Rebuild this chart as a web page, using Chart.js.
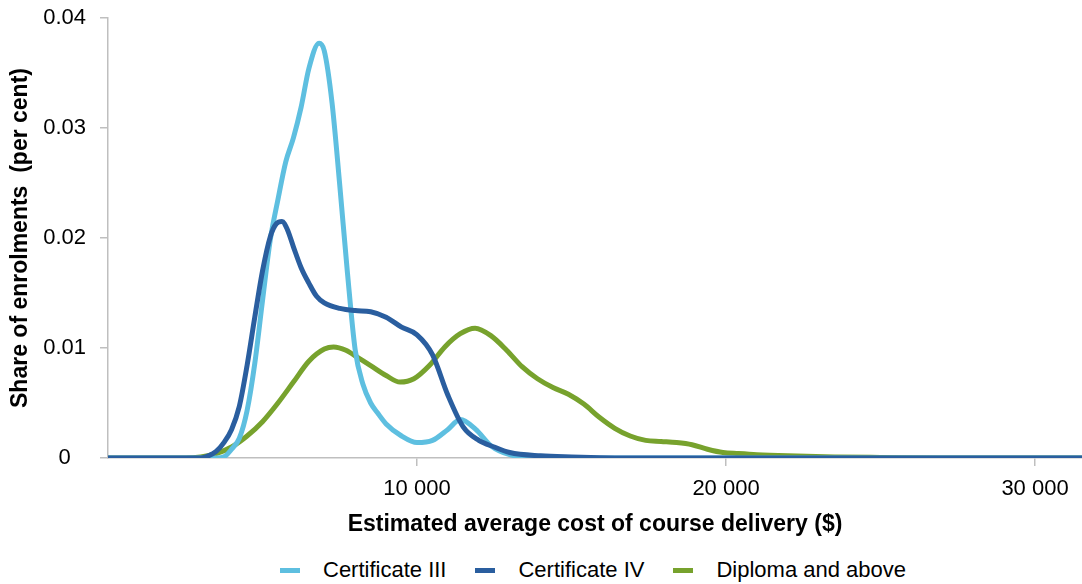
<!DOCTYPE html>
<html>
<head>
<meta charset="utf-8">
<script src="https://cdn.jsdelivr.net/npm/chart.js@4.4.1/dist/chart.umd.min.js"></script>
<style>
  html, body { margin: 0; padding: 0; background: #fff; }
  body { width: 1082px; height: 584px; position: relative; overflow: hidden; font-family: "Liberation Sans", Arial, sans-serif; }
  #wrap { position: absolute; left: 0; top: 0; width: 1082px; height: 538px; }
  #legend { position: absolute; left: 280px; top: 557px; display: flex; align-items: center; font-size: 22px; line-height: 26px; color: #000; }
  #legend .item { display: flex; align-items: center; margin-right: 29px; }
  #legend .sw { width: 20px; height: 5px; margin-right: 23px; }
</style>
</head>
<body>
<div id="wrap"><canvas id="chart"></canvas></div>
<div id="legend"></div>
<script>
// ---------- Data ----------
const SERIES_NAMES = ["Certificate III", "Certificate IV", "Diploma and above"];
const SERIES_COLORS = ["#5ebfe0", "#2a5e9f", "#77a22d"];

const cert3Cost  = [0, 3500, 3750, 4000, 4250, 4500, 4750, 5000, 5250, 5500, 5750, 6000, 6250, 6500, 6830, 7000, 7250, 7500, 7750, 8000, 8250, 8500, 8750, 9000, 9500, 10000, 10500, 11000, 11400, 11900, 12400, 13000, 13500, 14000, 31520];
const cert3Share = [0, 0, 0.0001, 0.0008, 0.0018, 0.0043, 0.0086, 0.0143, 0.0198, 0.0235, 0.0269, 0.0291, 0.0319, 0.0354, 0.0377, 0.0370, 0.0323, 0.0248, 0.0168, 0.0098, 0.0067, 0.0050, 0.0040, 0.0031, 0.0020, 0.0014, 0.0016, 0.0026, 0.0035, 0.0026, 0.0011, 0.0003, 0.0001, 0, 0];

const cert4Cost  = [0, 3000, 3250, 3500, 3750, 4000, 4250, 4500, 4750, 5000, 5250, 5450, 5630, 5800, 6000, 6250, 6500, 6750, 7000, 7500, 8000, 8500, 9000, 9500, 10000, 10500, 11000, 11500, 12000, 12500, 13000, 14000, 15000, 17000, 31520];
const cert4Share = [0, 0, 0.0002, 0.0006, 0.0014, 0.0026, 0.0047, 0.0084, 0.0128, 0.0170, 0.0201, 0.0213, 0.0215, 0.0208, 0.0192, 0.0173, 0.0159, 0.0147, 0.0141, 0.0136, 0.0134, 0.0133, 0.0128, 0.0119, 0.0112, 0.0094, 0.0057, 0.0028, 0.0016, 0.0010, 0.0005, 0.0002, 0.0001, 0, 0];

const diplomaCost  = [0, 2500, 3000, 3500, 4000, 4500, 5000, 5500, 6000, 6500, 7000, 7300, 7700, 8100, 8500, 9000, 9450, 9900, 10400, 10900, 11400, 11880, 12400, 12900, 13400, 13900, 14400, 14900, 15400, 15900, 16400, 16900, 17400, 17900, 18400, 18900, 19400, 19900, 20400, 21000, 22000, 23500, 25000, 27000, 31520];
const diplomaShare = [0, 0, 0.0001, 0.0004, 0.0010, 0.0020, 0.0033, 0.0050, 0.0069, 0.0088, 0.0099, 0.0101, 0.0098, 0.0091, 0.0084, 0.0075, 0.0069, 0.0072, 0.0084, 0.0101, 0.0113, 0.0118, 0.0111, 0.0098, 0.0083, 0.0072, 0.0064, 0.0058, 0.0049, 0.0037, 0.0027, 0.0020, 0.0016, 0.0015, 0.0014, 0.0012, 0.0008, 0.0005, 0.0004, 0.0003, 0.0002, 0.0001, 0.00005, 0, 0];

const X_TICKS = [10000, 20000, 30000];
const Y_TICKS = [0, 0.01, 0.02, 0.03, 0.04];

// ---------- Helpers ----------
const FONT = '"Liberation Sans", Arial, sans-serif';
const AXIS_GREY = "#bfbfbf";

function toPoints(xs, ys) {
  return xs.map((x, i) => ({ x, y: ys[i] }));
}

function lineDataset(idx, xs, ys, order) {
  return {
    label: SERIES_NAMES[idx],
    data: toPoints(xs, ys),
    borderColor: SERIES_COLORS[idx],
    backgroundColor: SERIES_COLORS[idx],
    borderWidth: 5,
    pointRadius: 0,
    cubicInterpolationMode: "monotone",
    fill: false,
    order
  };
}

function fmtThousands(v) {
  return String(v).replace(/\B(?=(\d{3})+(?!\d))/g, " ");
}

// ---------- Chart ----------
new Chart(document.getElementById("chart"), {
  type: "line",
  data: {
    datasets: [
      lineDataset(0, cert3Cost, cert3Share, 1),
      lineDataset(1, cert4Cost, cert4Share, 0),
      lineDataset(2, diplomaCost, diplomaShare, 2)
    ]
  },
  options: {
    responsive: true,
    maintainAspectRatio: false,
    animation: false,
    layout: { padding: { top: 18, right: 0, bottom: 0, left: 0 } },
    plugins: { legend: { display: false }, tooltip: { enabled: false } },
    scales: {
      x: {
        type: "linear",
        min: 0,
        max: 31520,
        afterBuildTicks: s => { s.ticks = X_TICKS.map(v => ({ value: v })); },
        afterFit: s => { s.height = 80; s.paddingLeft = 0; s.paddingRight = 0; },
        border: { display: true, color: AXIS_GREY, width: 1.5 },
        grid: { display: true, drawOnChartArea: false, drawTicks: true, tickLength: 8, color: AXIS_GREY, lineWidth: 1.5 },
        ticks: {
          padding: 10,
          maxRotation: 0,
          color: "#000",
          font: { family: FONT, size: 22 },
          callback: v => fmtThousands(v)
        },
        title: {
          display: true,
          text: "Estimated average cost of course delivery ($)",
          color: "#000",
          font: { family: FONT, size: 23, weight: "bold" },
          padding: { top: 0, bottom: 0 }
        }
      },
      y: {
        min: 0,
        max: 0.04,
        afterBuildTicks: s => { s.ticks = Y_TICKS.map(v => ({ value: v })); },
        afterFit: s => { s.width = 108; s.paddingTop = 0; s.paddingBottom = 0; },
        border: { display: true, color: AXIS_GREY, width: 1.5 },
        grid: { display: true, drawOnChartArea: false, drawTicks: true, tickLength: 8, color: AXIS_GREY, lineWidth: 1.5 },
        ticks: {
          padding: 14,
          crossAlign: "center",
          color: "#000",
          font: { family: FONT, size: 22 },
          callback: v => (v === 0 ? "0" : v.toFixed(2))
        },
        title: {
          display: true,
          text: "Share of enrolments  (per cent)",
          color: "#000",
          font: { family: FONT, size: 23, weight: "bold" },
          padding: { top: 7, bottom: 0 }
        }
      }
    }
  }
});

// ---------- Legend ----------
document.getElementById("legend").innerHTML = SERIES_NAMES.map((name, i) => `
  <div class="item"><span class="sw" style="background:${SERIES_COLORS[i]}"></span><span>${name}</span></div>`).join("");
</script>
</body>
</html>
